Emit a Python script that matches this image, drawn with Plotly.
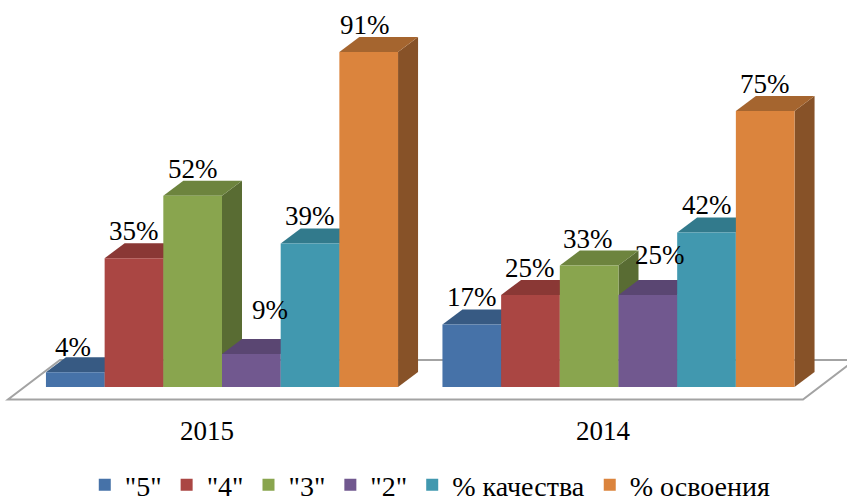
import plotly.graph_objects as go

years = ["2015", "2014"]
series = ['"5"', '"4"', '"3"', '"2"', "% качества", "% освоения"]
v5 = [4, 17]
v4 = [35, 25]
v3 = [52, 33]
v2 = [9, 25]
quality = [39, 42]
mastery = [91, 75]
all_values = [v5, v4, v3, v2, quality, mastery]

front = ["#4672a8", "#aa4643", "#89a54e", "#71588f", "#4198af", "#db843d"]
top = ["#375a83", "#8a3835", "#6d843e", "#5a4672", "#327a8c", "#a5652f"]
side = ["#2f4d70", "#7a312f", "#596c33", "#513f68", "#2c6c7d", "#875228"]
FONT = "Liberation Serif"

W, H = 847, 510                   # legend box padding runs past the 503 px page edge
X0_PX, UNIT_PX = 222.0, 396.5     # category 0 centre, px per category
Y0_PX, PX_PER_PCT = 387.0, 3.68   # zero line, px per percent
AXIS_PX = 405.0
DX, DY = 20 / UNIT_PX, 15 / PX_PER_PCT
GROUP = 0.888
BW = GROUP / len(series)


def px_x(px):
    return (px - X0_PX) / UNIT_PX


def px_y(py):
    return (Y0_PX - py) / PX_PER_PCT


def path(points):
    return "M" + "L".join(f"{a:.5f},{b:.5f}" for a, b in points) + "Z"


shapes = [dict(type="path", layer="below", xref="x", yref="y",
               path=path([(px_x(8), px_y(399.5)), (px_x(803), px_y(399.5)),
                          (px_x(855), px_y(360)), (px_x(60), px_y(360))]),
               fillcolor="white", line=dict(color="#a3a3a3", width=2))]

fig = go.Figure()
for i, (name, vals) in enumerate(zip(series, all_values)):
    fig.add_trace(go.Bar(name=name, x=[0, 1], y=vals, marker=dict(color=front[i], line=dict(width=0)),
                         hoverinfo="skip"))
    for j, v in enumerate(vals):
        x0 = j - GROUP / 2 + i * BW
        x1 = x0 + BW
        shapes.append(dict(type="path", layer="below", xref="x", yref="y", fillcolor=side[i], line=dict(width=0),
                           path=path([(x1, 0), (x1 + DX, DY), (x1 + DX, v + DY), (x1, v)])))
        shapes.append(dict(type="path", layer="below", xref="x", yref="y", fillcolor=top[i], line=dict(width=0),
                           path=path([(x0, v), (x1, v), (x1 + DX, v + DY), (x0 + DX, v + DY)])))

# small pixel nudges of data labels that sit off their bar
nudge = {(3, 0): (19, -17), (3, 1): (12, -13), (0, 0): (-2, 2), (5, 0): (-4, 0), (2, 1): (-1, 0)}
annotations = []
for i, vals in enumerate(all_values):
    for j, v in enumerate(vals):
        nx, ny = nudge.get((i, j), (0, 0))
        annotations.append(dict(x=j - GROUP / 2 + (i + 0.5) * BW, y=v, xref="x", yref="y",
                                text=f"{v}%", showarrow=False, xanchor="center", yanchor="middle",
                                xshift=nx, yshift=27 - ny, font=dict(family=FONT, size=27, color="#000")))

fig.update_layout(
    width=W, height=H, margin=dict(l=0, r=0, t=0, b=0, pad=0),
    paper_bgcolor="white", plot_bgcolor="white",
    barmode="group", bargap=1 - GROUP, bargroupgap=0,
    shapes=shapes, annotations=annotations,
    showlegend=True,
    legend=dict(orientation="h", x=0.508, xanchor="center", y=0, yanchor="bottom",
                font=dict(family=FONT, size=28, color="#000"), bgcolor="rgba(0,0,0,0)",
                traceorder="normal", itemclick=False, itemdoubleclick=False),
    xaxis=dict(range=[px_x(0), px_x(W)], tickmode="array", tickvals=[px_x(207), px_x(603)], ticktext=years,
               anchor="free", position=(H - AXIS_PX) / H,
               showgrid=False, zeroline=False, showline=False, ticks="outside", ticklen=2,
               tickcolor="rgba(0,0,0,0)", tickfont=dict(family=FONT, size=27, color="#000"), fixedrange=True),
    yaxis=dict(range=[px_y(H), px_y(0)], visible=False, fixedrange=True),
)

fig.write_html("out.html", config=dict(displayModeBar=False),
               post_script="document.body.style.margin='0';document.body.style.overflow='hidden';")
